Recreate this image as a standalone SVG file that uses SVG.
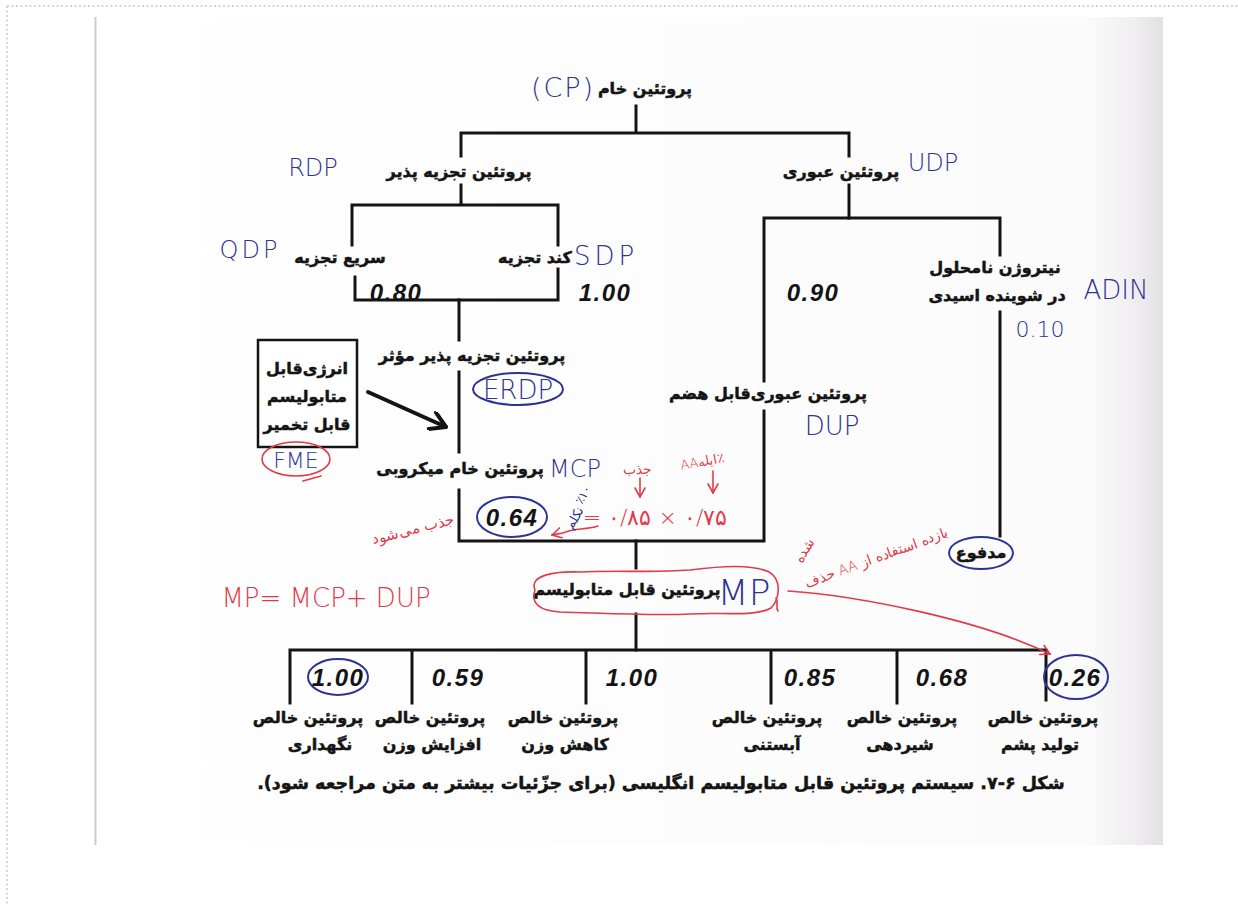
<svg xmlns="http://www.w3.org/2000/svg" width="1238" height="906" viewBox="0 0 1238 906">
  <defs>
    <style>
      .ln { fill: none; stroke: #141414; stroke-width: 3; stroke-linecap: square; }
      .fa { font-family: "DejaVu Sans", "Noto Sans", sans-serif; font-weight: bold; font-size: 16px; fill: #141414; stroke: #141414; stroke-width: 0.5; text-anchor: middle; direction: rtl; }
      .cap { font-size: 17.5px; }
      .val { font-family: "Liberation Sans", Arial, sans-serif; font-weight: bold; font-style: italic; font-size: 24px; fill: #141414; text-anchor: middle; letter-spacing: 1.5px; }
      .hb { font-family: "DejaVu Sans", "Noto Sans", sans-serif; font-weight: 200; fill: #2d3394; text-anchor: middle; }
      .hr { font-family: "DejaVu Sans", "Noto Sans", sans-serif; font-weight: 200; fill: #e23a48; text-anchor: middle; }
      .rtl { direction: rtl; }
      .ring-b { fill: none; stroke: #2d3394; stroke-width: 2; }
      .ring-r { fill: none; stroke: #e23a48; stroke-width: 1.6; }
      .ink-r { fill: none; stroke: #e23a48; stroke-width: 1.6; stroke-linecap: round; }
    </style>
    <linearGradient id="pageShade" x1="0" y1="0" x2="1" y2="0">
      <stop offset="0" stop-color="#ffffff"/>
      <stop offset="0.93" stop-color="#fbfbfb"/>
      <stop offset="0.975" stop-color="#efedef"/>
      <stop offset="1" stop-color="#e2e0e2"/>
    </linearGradient>
    <marker id="headBlack" viewBox="0 0 20 20" refX="18" refY="10" markerWidth="20" markerHeight="20" markerUnits="userSpaceOnUse" orient="auto">
      <path d="M3,1 L18,10 L3,19" fill="none" stroke="#141414" stroke-width="4" stroke-linecap="round" stroke-linejoin="round"/>
    </marker>
    <marker id="headRed" viewBox="0 0 12 12" refX="11" refY="6" markerWidth="12" markerHeight="12" markerUnits="userSpaceOnUse" orient="auto">
      <path d="M2,1 L11,6 L2,11" fill="none" stroke="#e23a48" stroke-width="1.6" stroke-linecap="round"/>
    </marker>
  </defs>

  <!-- sheet and frame -->
  <rect x="0" y="0" width="1238" height="906" fill="#ffffff"/>
  <path d="M7,6 H1238 M7,6 V906" fill="none" stroke="#c9c9c9" stroke-width="1.5" stroke-dasharray="2 2.5"/>
  <rect x="95" y="17" width="1068" height="828" fill="url(#pageShade)"/>
  <line x1="95.5" y1="17" x2="95.5" y2="845" stroke="#cfc9c9" stroke-width="2"/>

  <!-- tree connectors -->
  <g id="connectors">
    <path class="ln" d="M636,106 V133 M461,133 H849 M461,133 V156 M849,133 V156"/>
    <path class="ln" d="M461,185 V205 M352,205 H558 M352,205 V245 M558,205 V245"/>
    <path class="ln" d="M355,277 V300 H558 V269"/>
    <path class="ln" d="M459,300 V340 M459,372 V452 M459,490 V541 H764 V411 M764,381 V218 H1000 V255"/>
    <path class="ln" d="M849,185 V218 M1000,312 V536"/>
    <path class="ln" d="M636,541 V568 M636,614 V650"/>
    <path class="ln" d="M290,703 V650 H1046 V700 M412,650 V703 M586,650 V703 M771,650 V703 M897,650 V703"/>
    <path d="M368,392 L446,427" fill="none" stroke="#141414" stroke-width="4" stroke-linecap="round" marker-end="url(#headBlack)"/>
    <path class="ink-r" d="M788,591 C860,596 980,620 1050,654" marker-end="url(#headRed)"/>
    <path class="ink-r" d="M598,526 C585,530 575,528 566,532 C560,534 556,534 552,535" marker-end="url(#headRed)"/>
    <path class="ink-r" d="M640,478 V497" marker-end="url(#headRed)"/>
    <path class="ink-r" d="M713,471 V493" marker-end="url(#headRed)"/>
  </g>

  <!-- top: crude protein -->
  <g id="node-cp">
    <text class="fa" x="645" y="94">پروتئین خام</text>
    <text class="hb" x="563" y="97" font-size="27" letter-spacing="2">(CP)</text>
  </g>

  <g id="node-rdp">
    <text class="fa" x="459" y="177">پروتئین تجزیه پذیر</text>
    <text class="hb" x="313" y="176" font-size="24">RDP</text>
  </g>

  <g id="node-udp">
    <text class="fa" x="841" y="177">پروتئین عبوری</text>
    <text class="hb" x="933" y="171" font-size="24">UDP</text>
  </g>

  <g id="node-qdp">
    <text class="fa" x="340" y="263">سریع تجزیه</text>
    <text class="hb" x="250" y="258" font-size="24" letter-spacing="3">QDP</text>
    <text class="val" x="396" y="301">0.80</text>
  </g>

  <g id="node-sdp">
    <text class="fa" x="535" y="263">کند تجزیه</text>
    <text class="hb" x="606" y="265" font-size="26" letter-spacing="4">SDP</text>
    <text class="val" x="605" y="301">1.00</text>
  </g>

  <g id="node-udp-digestible-share">
    <text class="val" x="813" y="301">0.90</text>
  </g>

  <g id="node-adin">
    <text class="fa" x="995" y="273">نیتروژن نامحلول</text>
    <text class="fa" x="997" y="301">در شوینده اسیدی</text>
    <text class="hb" x="1116" y="299" font-size="26">ADIN</text>
    <text class="hb" x="1040" y="337" font-size="22">0.10</text>
  </g>

  <g id="node-erdp">
    <text class="fa" x="472" y="361">پروتئین تجزیه پذیر مؤثر</text>
    <ellipse class="ring-b" cx="518" cy="389" rx="45" ry="16"/>
    <text class="hb" x="518" y="399" font-size="26">ERDP</text>
  </g>

  <g id="node-fme">
    <rect x="258" y="340" width="99" height="107" fill="#ffffff" stroke="#141414" stroke-width="2.5"/>
    <text class="fa" x="307" y="374">انرژی‌قابل</text>
    <text class="fa" x="307" y="402">متابولیسم</text>
    <text class="fa" x="307" y="430">قابل تخمیر</text>
    <ellipse class="ring-r" cx="296" cy="459" rx="34" ry="17"/>
    <path class="ink-r" d="M303,481 L321,476"/>
    <text class="hb" x="296" y="468" font-size="22">FME</text>
  </g>

  <g id="node-dup">
    <text class="fa" x="768" y="399">پروتئین عبوری‌قابل هضم</text>
    <text class="hb" x="832" y="435" font-size="26">DUP</text>
  </g>

  <g id="node-mcp">
    <text class="fa" x="460" y="474">پروتئین خام میکروبی</text>
    <text class="hb" x="575" y="477" font-size="24">MCP</text>
    <ellipse class="ring-b" cx="512" cy="517" rx="35" ry="20"/>
    <text class="val" x="512" y="526">0.64</text>
    <text class="hr" x="655" y="525" font-size="22" direction="ltr">= ۰/۸۵ × ۰/۷۵</text>
    <text class="hr rtl" x="637" y="474" font-size="14">جذب</text>
    <text class="hr" x="703" y="466" font-size="13" direction="ltr" transform="rotate(-10 703 466)">AAایله٪</text>
    <text class="hb rtl" x="586" y="497" font-size="12" transform="rotate(-60 586 497)">٪۱۰</text>
    <text class="hb rtl" x="578" y="520" font-size="13" transform="rotate(-60 578 520)">نکلم</text>
    <text class="hr rtl" x="414" y="534" font-size="15" transform="rotate(-14 414 534)">جذب می‌شود</text>
  </g>

  <g id="node-feces">
    <ellipse class="ring-b" cx="981" cy="553" rx="32" ry="16"/>
    <text class="fa" x="981" y="558" font-size="15">مدفوع</text>
  </g>

  <g id="node-mp">
    <path class="ring-r" d="M535,590 C529,576 552,571 580,572 C620,570 652,573 690,570 C722,566 752,564 769,572 C783,580 779,600 771,608 C756,617 722,612 690,614 C650,616 600,613 560,612 C541,611 530,604 535,590 Z"/>
    <path class="ink-r" d="M776,598 C779,603 775,607 778,611" stroke-width="2.4"/>
    <text class="fa" x="627" y="595">پروتئین قابل متابولیسم</text>
    <text class="hb" x="744" y="605" font-size="36">MP</text>
    <text class="hr" x="326" y="607" font-size="26">MP= MCP+ DUP</text>
    <text class="hr rtl" x="878" y="562" font-size="14" transform="rotate(-20 878 562)">بازده استفاده از AA حذف</text>
    <text class="hr rtl" x="808" y="553" font-size="14" transform="rotate(-60 808 553)">شده</text>
  </g>

  <!-- net protein requirements -->
  <g id="node-maintenance">
    <ellipse class="ring-b" cx="338" cy="677" rx="30" ry="18"/>
    <text class="val" x="338" y="686">1.00</text>
    <text class="fa" x="308" y="723">پروتئین خالص</text>
    <text class="fa" x="320" y="750">نگهداری</text>
  </g>

  <g id="node-gain">
    <text class="val" x="458" y="686">0.59</text>
    <text class="fa" x="430" y="723">پروتئین خالص</text>
    <text class="fa" x="432" y="750">افزایش وزن</text>
  </g>

  <g id="node-loss">
    <text class="val" x="632" y="686">1.00</text>
    <text class="fa" x="563" y="723">پروتئین خالص</text>
    <text class="fa" x="565" y="750">کاهش وزن</text>
  </g>

  <g id="node-pregnancy">
    <text class="val" x="810" y="686">0.85</text>
    <text class="fa" x="767" y="723">پروتئین خالص</text>
    <text class="fa" x="772" y="750">آبستنی</text>
  </g>

  <g id="node-lactation">
    <text class="val" x="942" y="686">0.68</text>
    <text class="fa" x="902" y="723">پروتئین خالص</text>
    <text class="fa" x="900" y="750">شیردهی</text>
  </g>

  <g id="node-wool">
    <ellipse class="ring-b" cx="1076" cy="677" rx="32" ry="22"/>
    <text class="val" x="1075" y="686">0.26</text>
    <text class="fa" x="1043" y="723">پروتئین خالص</text>
    <text class="fa" x="1040" y="750">تولید پشم</text>
  </g>

  <g id="caption">
    <text class="fa cap" x="661" y="789">شکل ۶-۷. سیستم پروتئین قابل متابولیسم انگلیسی (برای جزّئیات بیشتر به متن مراجعه شود).</text>
  </g>
</svg>
